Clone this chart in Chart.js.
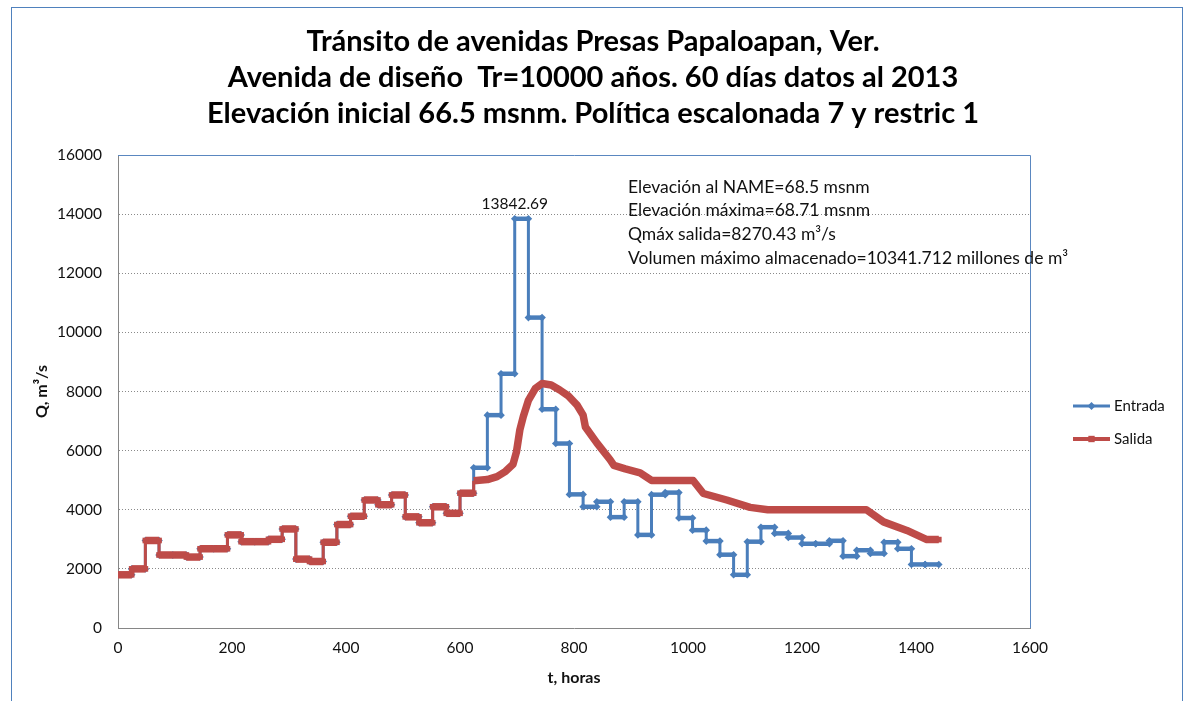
<!DOCTYPE html>
<html lang="es">
<head>
<meta charset="utf-8">
<title>Tránsito de avenidas Presa Papaloapan</title>
<script src="https://cdn.jsdelivr.net/npm/chart.js@4.4.1/dist/chart.umd.min.js"></script>
<style>
  html, body { margin: 0; padding: 0; background: #fff; }
  canvas { display: block; }
</style>
</head>
<body>
<canvas id="grafica" width="1186" height="701"></canvas>
<script>
//////////////////////////////////////////////////
// Datos

const HORAS_DIA = 24

// Gasto de entrada (m3/s), un valor por día, 60 días
const entradaDiaria = [
  1800, 2000, 2960, 2470, 2470, 2400, 2680, 2680, 3150, 2920,
  2920, 3000, 3350, 2330, 2250, 2900, 3500, 3780, 4330, 4170,
  4500, 3760, 3560, 4100, 3880, 4560, 5420, 7200, 8600, 13842.69,
  10500, 7400, 6240, 4520, 4100, 4270, 3750, 4270, 3150, 4510,
  4580, 3720, 3310, 2940, 2480, 1800, 2920, 3410, 3200, 3060,
  2850, 2850, 2950, 2430, 2630, 2520, 2900, 2680, 2150, 2150
]

// Salida antes de la avenida: igual a la entrada, por día
const salidaDiaria = [
  1800, 2000, 2960, 2470, 2470, 2400, 2680, 2680, 3150, 2920,
  2920, 3000, 3350, 2330, 2250, 2900, 3500, 3780, 4330, 4170,
  4500, 3760, 3560, 4100, 3880, 4560
]

// Salida durante el tránsito (horas, m3/s)
const horasSalida = [
  624, 648, 665, 680, 693, 699, 705, 711, 720, 732,
  744, 760, 775, 790, 805, 816, 820, 840, 863, 870,
  890, 916, 936, 1009, 1027, 1068, 1109, 1140, 1313, 1343,
  1384, 1419, 1440
]
const qSalida = [
  4980, 5020, 5120, 5300, 5540, 5950, 6700, 7150, 7700, 8100,
  8270.43, 8220, 8050, 7850, 7550, 7200, 6800, 6260, 5700, 5500,
  5380, 5250, 4990, 4990, 4550, 4330, 4080, 4000, 4000, 3590,
  3300, 2990, 2990
]

const titulo = [
  'Tránsito de avenidas Presas Papaloapan, Ver.',
  'Avenida de diseño  Tr=10000 años. 60 días datos al 2013',
  'Elevación inicial 66.5 msnm. Política escalonada 7 y restric 1'
]

const notas = [
  'Elevación al NAME=68.5 msnm',
  'Elevación máxima=68.71 msnm',
  'Qmáx salida=8270.43 m³/s',
  'Volumen máximo almacenado=10341.712 millones de m³'
]

const AZUL = '#4A7EBB'
const ROJO = '#BE4B48'
const FUENTE = 'Lato, "Open Sans", sans-serif'

//////////////////////////////////////////////////
// Series escalonadas

const escalones = (valores) => {
  const pts = []
  valores.forEach((q, i) => {
    pts.push({ x: i * HORAS_DIA, y: q })
    pts.push({ x: (i + 1) * HORAS_DIA, y: q })
  })
  return pts
}

const puntosEntrada = escalones(entradaDiaria)
const puntosSalida = escalones(salidaDiaria)
horasSalida.forEach((h, i) => puntosSalida.push({ x: h, y: qSalida[i] }))
const nEscalonSalida = salidaDiaria.length * 2

// los saltos verticales se dibujan más delgados
const anchoSegmento = (grueso, delgado) => (ctx) =>
  ctx.p0.parsed.x === ctx.p1.parsed.x ? delgado : grueso

//////////////////////////////////////////////////
// Plugins de dibujo

const fondo = {
  id: 'fondo',
  beforeDraw (chart) {
    const { ctx, width, height } = chart
    ctx.save()
    ctx.fillStyle = '#fff'
    ctx.fillRect(0, 0, width, height)
    ctx.strokeStyle = '#4F81BD'
    ctx.lineWidth = 1
    ctx.strokeRect(11.5, 7.5, width - 15, height + 20)
    ctx.restore()
  }
}

const marcoArea = {
  id: 'marcoArea',
  beforeDatasetsDraw (chart) {
    const { ctx, chartArea: a } = chart
    ctx.save()
    ctx.strokeStyle = '#5A87C0'
    ctx.lineWidth = 1
    ctx.beginPath()
    ctx.moveTo(a.left, a.top + 0.5)
    ctx.lineTo(a.right + 0.5, a.top + 0.5)
    ctx.lineTo(a.right + 0.5, a.bottom)
    ctx.stroke()
    ctx.restore()
  }
}

const etiquetas = {
  id: 'etiquetas',
  afterDatasetsDraw (chart) {
    const { ctx, chartArea: a } = chart
    ctx.save()
    ctx.fillStyle = '#111'

    // valor máximo de la entrada
    const meta = chart.getDatasetMeta(0)
    const datos = chart.data.datasets[0].data
    let iMax = 0
    datos.forEach((p, i) => { if (p.y > datos[iMax].y) iMax = i })
    const pico = meta.data[iMax]
    ctx.font = '15.5px ' + FUENTE
    ctx.textAlign = 'center'
    ctx.textBaseline = 'middle'
    ctx.fillText(datos[iMax].y.toFixed(2), pico.x, pico.y - 15)

    // cuadro de resultados
    ctx.font = '17.5px ' + FUENTE
    ctx.textAlign = 'left'
    notas.forEach((t, i) => ctx.fillText(t, a.left + 510, a.top + 32 + i * 23.7))

    // leyenda
    const items = [
      { texto: 'Entrada', color: AZUL, ancho: 3, estilo: 'rectRot', r: 4 },
      { texto: 'Salida', color: ROJO, ancho: 4, estilo: 'rect', r: 4.5 }
    ]
    items.forEach((it, i) => {
      const y = 406 + i * 33
      ctx.strokeStyle = it.color
      ctx.fillStyle = it.color
      ctx.lineWidth = it.ancho
      ctx.beginPath()
      ctx.moveTo(1073, y)
      ctx.lineTo(1110, y)
      ctx.stroke()
      Chart.helpers.drawPoint(ctx, { pointStyle: it.estilo, radius: it.r, borderWidth: 0 }, 1091.5, y)
      ctx.fillStyle = '#111'
      ctx.font = '15px ' + FUENTE
      ctx.fillText(it.texto, 1114, y)
    })
    ctx.restore()
  }
}

//////////////////////////////////////////////////
// Gráfica

const crear = () => {
  Chart.defaults.font.family = FUENTE
  Chart.defaults.color = '#111'

  new Chart(document.getElementById('grafica'), {
    type: 'line',
    plugins: [fondo, marcoArea, etiquetas],
    data: {
      datasets: [
        {
          label: 'Entrada',
          data: puntosEntrada,
          borderColor: AZUL,
          backgroundColor: AZUL,
          borderWidth: 4,
          segment: { borderWidth: anchoSegmento(4.5, 3) },
          pointStyle: 'rectRot',
          pointRadius: 3.8,
          pointBorderWidth: 0,
          tension: 0,
          order: 2
        },
        {
          label: 'Salida',
          data: puntosSalida,
          borderColor: ROJO,
          backgroundColor: ROJO,
          borderWidth: 7.5,
          borderJoinStyle: 'round',
          segment: { borderWidth: anchoSegmento(7.5, 3) },
          pointStyle: 'rect',
          pointRadius: (ctx) =>
            ctx.dataIndex < nEscalonSalida || ctx.dataIndex === puntosSalida.length - 1 ? 4 : 0,
          pointBorderWidth: 0,
          tension: 0,
          order: 1
        }
      ]
    },
    options: {
      responsive: false,
      animation: false,
      layout: { padding: 0 },
      plugins: {
        legend: { display: false },
        tooltip: { enabled: false },
        title: {
          display: true,
          text: titulo,
          color: '#000',
          font: { size: 29, weight: 'bold', lineHeight: 36 / 29 },
          padding: { top: 24, bottom: 23 }
        }
      },
      scales: {
        x: {
          type: 'linear',
          min: 0,
          max: 1600,
          ticks: { stepSize: 200, padding: 11, font: { size: 15.5 }, callback: (v) => String(v) },
          grid: { display: false, drawTicks: false },
          border: { display: true, color: '#868686', width: 1 },
          title: {
            display: true,
            text: 't, horas',
            font: { size: 16, weight: 'bold' },
            padding: { top: 0, bottom: 14 }
          },
          afterFit: (scale) => { scale.height = 73 }
        },
        y: {
          min: 0,
          max: 16000,
          ticks: { stepSize: 2000, padding: 16, font: { size: 15.5 }, callback: (v) => String(v) },
          grid: { color: '#8a8a8a', lineWidth: 1, drawTicks: false },
          border: { display: true, color: '#868686', width: 1, dash: [1, 2] },
          title: {
            display: true,
            text: 'Q, m³/s',
            font: { size: 16, weight: 'bold' },
            padding: { top: 32, bottom: 0 }
          },
          afterFit: (scale) => { scale.width = 118 }
        },
        // franja derecha reservada para la leyenda
        margen: {
          type: 'linear',
          position: 'right',
          display: true,
          ticks: { display: false },
          grid: { display: false, drawTicks: false },
          border: { display: false },
          afterFit: (scale) => { scale.width = 156 }
        }
      }
    }
  })
}

Promise.all([
  document.fonts.load('15px Lato'),
  document.fonts.load('bold 24px Lato')
]).then(crear, crear)
</script>
</body>
</html>
